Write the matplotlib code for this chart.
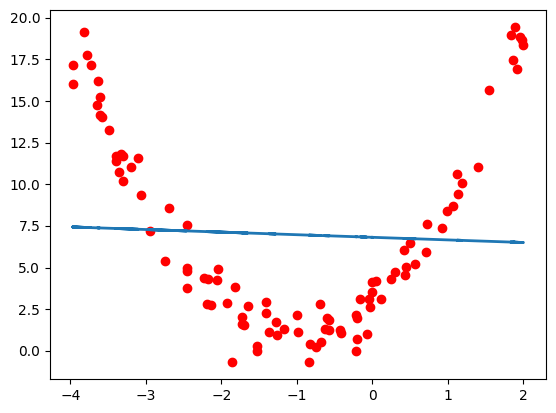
import numpy as np
import matplotlib
matplotlib.use("Agg")
import matplotlib.pyplot as plt

# sample points
x = np.array([
    -3.815, -3.78, -3.97, -3.73, -3.97, -3.63, -3.61, -3.64, -3.60, -3.585,
    -3.49, -3.395, -3.40, -3.33, -3.30, -3.10, -3.19, -3.36, -3.30, -3.06,
    -2.69, -2.46, -2.95, -2.74, -2.45, -2.45, -2.45, -2.225, -2.17, -2.06,
    -2.05, -1.82, -2.19, -2.14, -1.92, -1.65, -1.72, -1.73, -1.70, -1.86,
    -1.53, -1.53, -1.41, -1.41, -1.28, -1.37, -1.26, -1.17, -1.00, -0.98,
    -0.83, -0.75, -0.685, -0.84, -0.70, -0.605, -0.57, -0.63, -0.57, -0.43,
    -0.41, -0.22, -0.21, -0.21, -0.22, -0.075, -0.16, -0.045, -0.03, 0.00,
    -0.01, 0.05, 0.12, 0.24, 0.30, 0.43, 0.45, 0.57, 0.415, 0.495,
    0.705, 0.72, 0.92, 0.985, 1.065, 1.13, 1.18, 1.12, 1.395, 1.55,
    1.89, 1.83, 1.95, 1.98, 2.00, 1.86, 1.91,
])
y = np.array([
    19.14, 17.78, 17.19, 17.19, 16.05, 16.23, 15.25, 14.77, 14.19, 14.07,
    13.29, 11.68, 11.42, 11.80, 11.72, 11.56, 11.02, 10.72, 10.22, 9.34,
    8.56, 7.54, 7.20, 5.39, 4.95, 4.81, 3.75, 4.35, 4.29, 4.23,
    4.89, 3.81, 2.81, 2.73, 2.85, 2.67, 2.06, 1.62, 1.58, -0.68,
    0.30, 0.02, 2.92, 2.30, 1.72, 1.12, 0.94, 1.32, 2.14, 1.12,
    0.40, 0.22, 0.52, -0.68, 2.80, 1.96, 1.84, 1.30, 1.24, 1.24,
    1.06, 2.14, 1.96, 0.72, -0.02, 1.00, 3.10, 3.10, 2.65, 3.51,
    4.11, 4.17, 3.10, 4.29, 4.71, 4.55, 5.03, 5.19, 6.05, 6.45,
    5.91, 7.60, 7.35, 8.42, 8.72, 9.44, 10.10, 10.64, 11.02, 15.67,
    19.46, 18.98, 18.86, 18.66, 18.36, 17.47, 16.93,
])

# linear fit as shown in the picture
intercept = 6.82
slope = -0.156

fig = plt.figure(figsize=(5.56, 4.13), dpi=100)
fig.subplots_adjust(left=0.0899, right=0.982, top=0.9758, bottom=0.0823)

plt.scatter(x, y, color='red')
# unsorted x, like a plain plot of the predictions
plt.plot(x, intercept + slope * x, linewidth=2)

plt.savefig("out.png")
